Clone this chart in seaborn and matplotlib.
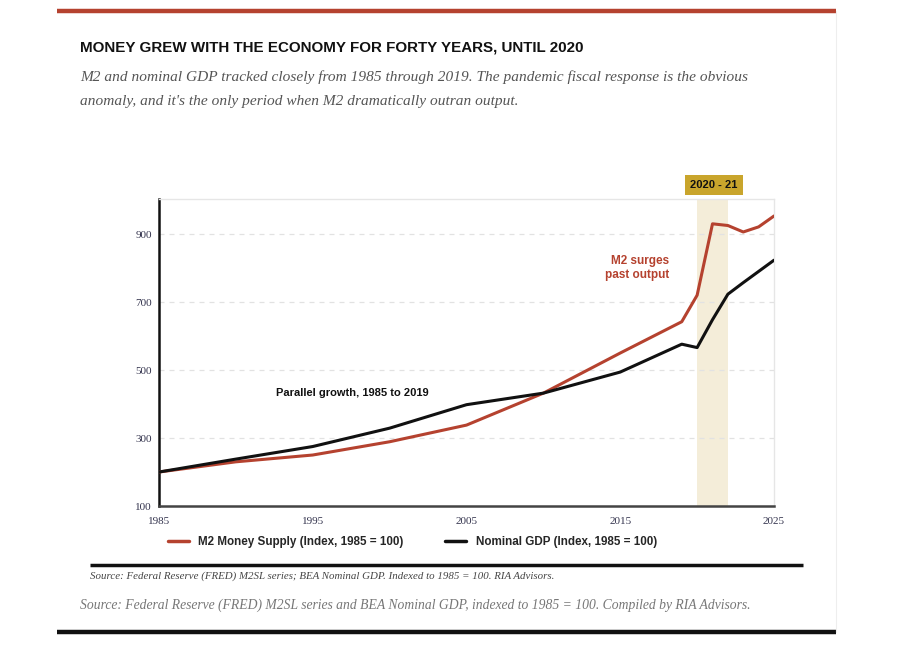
import matplotlib
matplotlib.use("Agg")
import matplotlib.pyplot as plt
import seaborn as sns
import pandas as pd
from matplotlib.lines import Line2D

# data
years = [1985, 1990, 1995, 2000, 2005, 2010, 2015, 2019, 2020, 2021, 2022, 2023, 2024, 2025]
m2 = [200, 230, 250, 289, 338, 432, 550, 642, 720, 930, 925, 906, 921, 953]
gdp = [200, 238, 275, 329, 398, 432, 494, 576, 566, 648, 723, 757, 790, 823]
series_names = ["M2 Money Supply (Index, 1985 = 100)", "Nominal GDP (Index, 1985 = 100)"]
x_ticks = [1985, 1995, 2005, 2015, 2025]
y_ticks = [100, 300, 500, 700, 900]

RED = "#b5422f"
BLACK = "#111111"
GOLD = "#c9a52c"
SHADE = "#f4edd9"

df = pd.DataFrame({"year": years * 2,
                   "value": m2 + gdp,
                   "series": [series_names[0]] * len(years) + [series_names[1]] * len(years)})

sns.set_style("white")
plt.rcParams["font.family"] = ["Liberation Sans", "DejaVu Sans"]

fig = plt.figure(figsize=(9.04, 6.52), dpi=100)
ax = fig.add_axes([0.1759, 0.2239, 0.6803, 0.4709])

ax.axvspan(2020, 2022, color=SHADE, zorder=0, lw=0)
sns.lineplot(data=df, x="year", y="value", hue="series", palette=[RED, BLACK],
             linewidth=2.2, ax=ax, legend=False, zorder=3)

ax.set_xlim(1985, 2025)
ax.set_ylim(100, 1003)
ax.set_xticks(x_ticks)
ax.set_yticks(y_ticks)
ax.set_xlabel("")
ax.set_ylabel("")
serif = ["Liberation Serif", "DejaVu Serif"]
for lab in ax.get_xticklabels() + ax.get_yticklabels():
    lab.set_family(serif)
    lab.set_fontsize(8)
    lab.set_color("#33334d")
ax.tick_params(axis="x", length=0, pad=8)
ax.tick_params(axis="y", length=0, pad=5)
ax.yaxis.grid(True, linestyle=(0, (4, 4)), color="#e2e2e2", linewidth=0.9)
ax.set_axisbelow(True)
for s in ["top", "right"]:
    ax.spines[s].set_color("#e6e6e6")
    ax.spines[s].set_linewidth(1)
ax.spines["left"].set_color("#111111")
ax.spines["left"].set_linewidth(1.8)
ax.spines["bottom"].set_color("#444444")
ax.spines["bottom"].set_linewidth(1.8)

ax.text(1997.6, 432, "Parallel growth, 1985 to 2019", ha="center", va="center",
        fontsize=8, fontweight="bold", color=BLACK)
ax.text(2018.2, 800, "M2 surges\npast output", ha="right", va="center",
        fontsize=8.5, fontweight="bold", color=RED, linespacing=1.3)
ax.text(2021.1, 1043, "2020 - 21", ha="center", va="center", fontsize=8,
        fontweight="bold", color=BLACK, clip_on=False,
        bbox=dict(boxstyle="square,pad=0.45", fc=GOLD, ec="none"))

handles = [Line2D([0], [0], color=RED, lw=2.5), Line2D([0], [0], color=BLACK, lw=2.5)]
fig.legend(handles, series_names, loc="center", bbox_to_anchor=(0.456, 0.168), ncol=2,
           frameon=False, handlelength=1.8, columnspacing=3.6,
           prop={"weight": "bold", "size": 8.4})

# page decorations
def hline(x0, x1, y, color, lw):
    fig.add_artist(Line2D([x0 / 904, x1 / 904], [1 - y / 652] * 2, color=color, lw=lw,
                          solid_capstyle="butt"))

hline(57, 836, 11, "#b5422f", 3.2)
hline(57, 836, 632, "#111111", 3.2)
hline(90, 803, 565, "#111111", 2.5)
fig.add_artist(Line2D([836 / 904] * 2, [1 - 632 / 652, 1 - 11 / 652], color="#eeeeee", lw=0.8))

fig.text(80 / 904, 1 - 47 / 652, "MONEY GREW WITH THE ECONOMY FOR FORTY YEARS, UNTIL 2020",
         fontsize=10.9, fontweight="bold", color=BLACK, va="center")
sub_style = dict(fontsize=11.1, style="italic", family=serif, color="#555555", va="center")
fig.text(80 / 904, 1 - 77 / 652,
         "M2 and nominal GDP tracked closely from 1985 through 2019. The pandemic fiscal response is the obvious",
         **sub_style)
fig.text(80 / 904, 1 - 101 / 652,
         "anomaly, and it's the only period when M2 dramatically outran output.", **sub_style)
fig.text(90 / 904, 1 - 576 / 652,
         "Source: Federal Reserve (FRED) M2SL series; BEA Nominal GDP. Indexed to 1985 = 100. RIA Advisors.",
         fontsize=7.8, style="italic", family=serif, color="#444444", va="center")
fig.text(80 / 904, 1 - 605 / 652,
         "Source: Federal Reserve (FRED) M2SL series and BEA Nominal GDP, indexed to 1985 = 100. Compiled by RIA Advisors.",
         fontsize=9.8, style="italic", family=serif, color="#777777", va="center")

fig.savefig("out.png", dpi=100)
